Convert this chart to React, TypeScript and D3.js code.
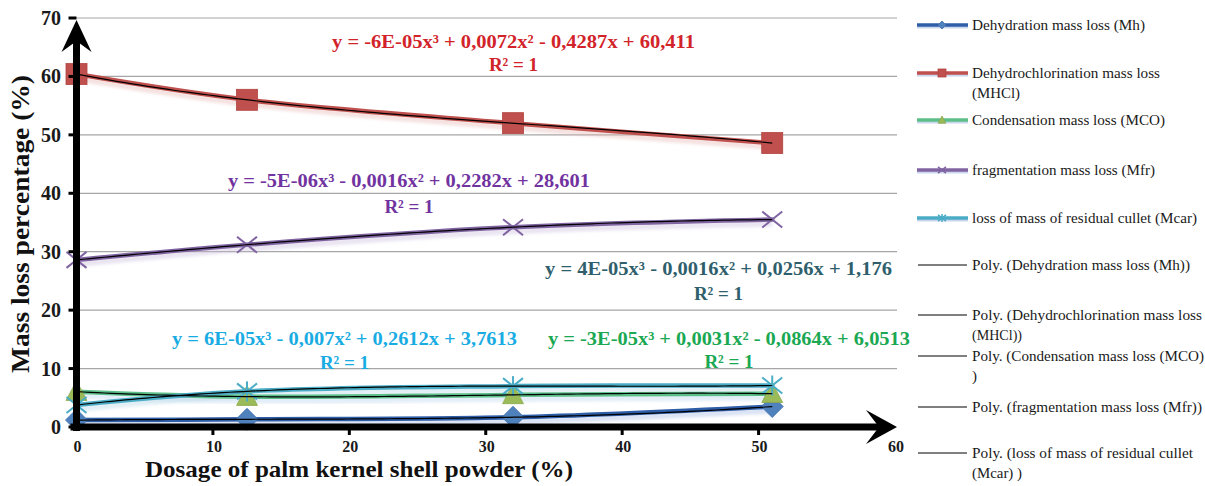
import React from "react";
import * as d3 from "d3";

// Dosage of palm kernel shell powder (%)
const dosage = [0, 12.5, 32, 51];

// Mass loss (%) per decomposition stage
const dehydration = [1.18, 1.32, 1.67, 3.5];
const dehydrochlorination = [60.4, 56.0, 52.0, 48.6];
const condensation = [6.05, 5.2, 5.5, 5.7];
const fragmentation = [28.6, 31.2, 34.2, 35.5];
const residualCullet = [3.76, 6.1, 7.0, 7.1];

const xTicks = [0, 10, 20, 30, 40, 50, 60];
const yTicks = [0, 10, 20, 30, 40, 50, 60, 70];

const equations = [
  "y = 4E-05x³ - 0,0016x² + 0,0256x + 1,176",
  "y = -6E-05x³ + 0,0072x² - 0,4287x + 60,411",
  "y = -3E-05x³ + 0,0031x² - 0,0864x + 6,0513",
  "y = -5E-06x³ - 0,0016x² + 0,2282x + 28,601",
  "y = 6E-05x³ - 0,007x² + 0,2612x + 3,7613",
];

type Marker = "diamond" | "square" | "triangle" | "cross" | "star";

const W = 1205;
const H = 486;

const x = d3.scaleLinear().domain([0, 60]).range([76.5, 895]);
const y = d3.scaleLinear().domain([0, 70]).range([427, 18]);

// Least-squares cubic (exact with four points) – the "Poly." trendline
function cubicFit(xs: number[], ys: number[]): number[] {
  const n = 4;
  const A: number[][] = [];
  for (let r = 0; r < n; r++) {
    const row: number[] = [];
    for (let c = 0; c < n; c++) {
      let s = 0;
      for (let i = 0; i < xs.length; i++) s += Math.pow(xs[i], r + c);
      row.push(s);
    }
    let b = 0;
    for (let i = 0; i < xs.length; i++) b += ys[i] * Math.pow(xs[i], r);
    row.push(b);
    A.push(row);
  }
  for (let p = 0; p < n; p++) {
    let best = p;
    for (let r = p + 1; r < n; r++) if (Math.abs(A[r][p]) > Math.abs(A[best][p])) best = r;
    [A[p], A[best]] = [A[best], A[p]];
    for (let r = 0; r < n; r++) {
      if (r === p) continue;
      const f = A[r][p] / A[p][p];
      for (let c = p; c <= n; c++) A[r][c] -= f * A[p][c];
    }
  }
  return A.map((row, i) => row[n] / row[i]);
}

function trendPath(ys: number[]): string {
  const k = cubicFit(dosage, ys);
  const x0 = dosage[0];
  const x1 = dosage[dosage.length - 1];
  const pts: [number, number][] = d3.range(0, 101).map((i) => {
    const xv = x0 + ((x1 - x0) * i) / 100;
    const yv = k[0] + k[1] * xv + k[2] * xv * xv + k[3] * xv * xv * xv;
    return [x(xv), y(yv)];
  });
  return d3.line()(pts) || "";
}

const seriesLine = d3
  .line<number>()
  .x((_, i) => x(dosage[i]))
  .y((d) => y(d))
  .curve(d3.curveCatmullRom.alpha(0.5));

function MarkerShape({ kind, cx, cy, s, fill }: { kind: Marker; cx: number; cy: number; s: number; fill: string }) {
  const t = `translate(${cx},${cy})`;
  if (kind === "diamond")
    return <path transform={t} d={`M0,${-s}L${s},0L0,${s}L${-s},0Z`} fill={fill} stroke="#3f6fae" strokeWidth={0.8} />;
  if (kind === "square")
    return <rect transform={t} x={-s} y={-s} width={2 * s} height={2 * s} fill={fill} stroke="#b2433f" strokeWidth={0.8} />;
  if (kind === "triangle")
    return <path transform={t} d={`M0,${-s}L${s * 0.95},${s * 0.8}L${-s * 0.95},${s * 0.8}Z`} fill={fill} stroke="#8aa84c" strokeWidth={0.8} />;
  if (kind === "cross")
    return (
      <g transform={t} stroke={fill} strokeWidth={s > 6 ? 2 : 1.5}>
        <line x1={-s} y1={-s * 0.8} x2={s} y2={s * 0.8} />
        <line x1={-s} y1={s * 0.8} x2={s} y2={-s * 0.8} />
      </g>
    );
  return (
    <g transform={t} stroke={fill} strokeWidth={s > 6 ? 2 : 1.5}>
      <line x1={-s} y1={-s * 0.8} x2={s} y2={s * 0.8} />
      <line x1={-s} y1={s * 0.8} x2={s} y2={-s * 0.8} />
      <line x1={0} y1={-s} x2={0} y2={s} />
    </g>
  );
}

const series = [
  { values: dehydration, line: "#2f5ea8", shadow: "#9fb6e0", marker: "#4F81BD", kind: "diamond" as Marker, size: 11 },
  { values: dehydrochlorination, line: "#C0504D", shadow: "#e3b3b1", marker: "#C0504D", kind: "square" as Marker, size: 10.5 },
  { values: condensation, line: "#5cbf8a", shadow: "#b9d3ee", marker: "#9BBB59", kind: "triangle" as Marker, size: 11 },
  { values: fragmentation, line: "#8064A2", shadow: "#c9bcdc", marker: "#8064A2", kind: "cross" as Marker, size: 10 },
  { values: residualCullet, line: "#4BACC6", shadow: "#b3d6e6", marker: "#4BACC6", kind: "star" as Marker, size: 10 },
];

// Equation label placement and colours
const eqLabels = [
  { color: "#2f5f6c", x0: 545, x1: 892, base: 275, r2: 300 },
  { color: "#d2232a", x0: 332, x1: 695, base: 48, r2: 71 },
  { color: "#1aa852", x0: 548, x1: 910, base: 345, r2: 368 },
  { color: "#7133a0", x0: 228, x1: 590, base: 187, r2: 213 },
  { color: "#19ace3", x0: 172, x1: 517, base: 345, r2: 369 },
];

// Legend rows: line y, wrapped text lines, text widths
const legendRows: { ly: number; lines: string[]; widths: number[]; series?: number }[] = [
  { ly: 25, lines: ["Dehydration mass loss (Mh)"], widths: [173], series: 0 },
  { ly: 73, lines: ["Dehydrochlorination mass loss", "(MHCl)"], widths: [188, 48], series: 1 },
  { ly: 120, lines: ["Condensation mass loss (MCO)"], widths: [193], series: 2 },
  { ly: 170, lines: ["fragmentation mass loss (Mfr)"], widths: [183], series: 3 },
  { ly: 218, lines: ["loss of mass of residual cullet (Mcar)"], widths: [225], series: 4 },
  { ly: 265, lines: ["Poly. (Dehydration mass loss (Mh))"], widths: [218] },
  { ly: 315, lines: ["Poly. (Dehydrochlorination mass loss", "(MHCl))"], widths: [230, 50] },
  { ly: 356, lines: ["Poly. (Condensation mass loss (MCO)", ")"], widths: [232, 5] },
  { ly: 407, lines: ["Poly. (fragmentation mass loss (Mfr))"], widths: [230] },
  { ly: 453, lines: ["Poly. (loss of mass of residual cullet", "(Mcar) )"], widths: [221, 50] },
];

export default function App() {
  const serif = "'Liberation Serif', 'Times New Roman', serif";
  const axisLeft = x(0);
  const axisBottom = y(0);
  const axisRightTip = 897;
  const axisTopTip = 20;

  return (
    <svg width={W} height={H} style={{ position: "absolute", left: 0, top: 0, background: "#fff" }} fontFamily={serif}>
      <defs>
        <filter id="glow" x="-10%" y="-50%" width="120%" height="200%">
          <feGaussianBlur stdDeviation="1.5" />
        </filter>
      </defs>

      {/* horizontal gridlines */}
      {yTicks.filter((t) => t > 0).map((t) => (
        <line key={t} x1={axisLeft} x2={axisRightTip} y1={y(t)} y2={y(t)} stroke="#a6a6a6" strokeWidth={1.2} />
      ))}

      {/* soft shadow beneath series lines */}
      {series.map((s, i) => (
        <path
          key={"sh" + i}
          d={seriesLine(s.values) || ""}
          transform="translate(0,4)"
          fill="none"
          stroke={s.shadow}
          strokeOpacity={0.4}
          strokeWidth={6}
          filter="url(#glow)"
        />
      ))}

      {/* series lines */}
      {series.map((s, i) => (
        <path key={"ln" + i} d={seriesLine(s.values) || ""} fill="none" stroke={s.line} strokeWidth={4.5} strokeLinecap="round" />
      ))}

      {/* markers */}
      {series.map((s, i) =>
        s.values.map((v, j) => (
          <MarkerShape key={`m${i}-${j}`} kind={s.kind} cx={x(dosage[j])} cy={y(v)} s={s.size} fill={s.marker} />
        ))
      )}

      {/* polynomial trendlines */}
      {series.map((s, i) => (
        <path key={"tr" + i} d={trendPath(s.values)} fill="none" stroke="#000" strokeWidth={1.2} />
      ))}

      {/* axes */}
      <line x1={axisLeft} x2={axisLeft} y1={axisBottom + 4} y2={axisTopTip + 14} stroke="#000" strokeWidth={7} />
      <path
        d={`M${axisLeft},${axisTopTip}L${axisLeft + 15},${axisTopTip + 32}L${axisLeft},${axisTopTip + 21}L${axisLeft - 15},${axisTopTip + 32}Z`}
        fill="#000"
      />
      <line x1={axisLeft - 6} x2={axisRightTip - 14} y1={axisBottom} y2={axisBottom} stroke="#000" strokeWidth={7} />
      <path
        d={`M${axisRightTip},${axisBottom}L${axisRightTip - 31},${axisBottom - 17}L${axisRightTip - 18},${axisBottom}L${axisRightTip - 31},${axisBottom + 17}Z`}
        fill="#000"
      />

      {/* y ticks and labels */}
      {yTicks.map((t) => (
        <g key={"yt" + t}>
          <line x1={axisLeft - 8} x2={axisLeft} y1={y(t)} y2={y(t)} stroke="#000" strokeWidth={3} />
          <text x={61} y={y(t)} dy="0.35em" textAnchor="end" fontSize={20} fontWeight="bold" fill="#1a1a1a">
            {t}
          </text>
        </g>
      ))}

      {/* x ticks and labels */}
      {xTicks.map((t) => (
        <g key={"xt" + t}>
          {t > 0 && t < 60 && (
            <line x1={x(t)} x2={x(t)} y1={axisBottom} y2={axisBottom + 8} stroke="#000" strokeWidth={3} />
          )}
          <text x={x(t) + 1} y={452} textAnchor="middle" fontSize={16} fontWeight="bold" fill="#1a1a1a">
            {t}
          </text>
        </g>
      ))}

      {/* axis titles */}
      <text x={359} y={477} textAnchor="middle" fontSize={23} fontWeight="bold" textLength={428} lengthAdjust="spacingAndGlyphs" fill="#111">
        Dosage of palm kernel shell powder (%)
      </text>
      <text
        transform="translate(29,224) rotate(-90)"
        textAnchor="middle"
        fontSize={25}
        fontWeight="bold"
        textLength={298}
        lengthAdjust="spacingAndGlyphs"
        fill="#111"
      >
        Mass loss percentage (%)
      </text>

      {/* trendline equations */}
      {eqLabels.map((e, i) => (
        <g key={"eq" + i} fill={e.color} fontWeight="bold">
          <text x={e.x0} y={e.base} fontSize={19} textLength={e.x1 - e.x0} lengthAdjust="spacingAndGlyphs">
            {equations[i]}
          </text>
          <text x={(e.x0 + e.x1) / 2} y={e.r2} fontSize={19} textAnchor="middle">
            R² = 1
          </text>
        </g>
      ))}

      {/* legend */}
      {legendRows.map((r, i) => {
        const s = r.series !== undefined ? series[r.series] : null;
        return (
          <g key={"lg" + i}>
            {s ? (
              <>
                <line x1={917} x2={968} y1={r.ly + 2} y2={r.ly + 2} stroke="#c9d6ee" strokeWidth={3} />
                <line x1={917} x2={968} y1={r.ly} y2={r.ly} stroke={s.line} strokeWidth={3.5} />
                <MarkerShape kind={s.kind} cx={942} cy={r.ly} s={4} fill={s.marker} />
              </>
            ) : (
              <line x1={918} x2={967} y1={r.ly} y2={r.ly} stroke="#000" strokeWidth={1} />
            )}
            {r.lines.map((t, j) => (
              <text
                key={j}
                x={972}
                y={r.ly + 4.5 + j * 20}
                fontSize={14}
                fill="#1a1a1a"
                textLength={r.widths[j]}
                lengthAdjust="spacingAndGlyphs"
              >
                {t}
              </text>
            ))}
          </g>
        );
      })}
    </svg>
  );
}
